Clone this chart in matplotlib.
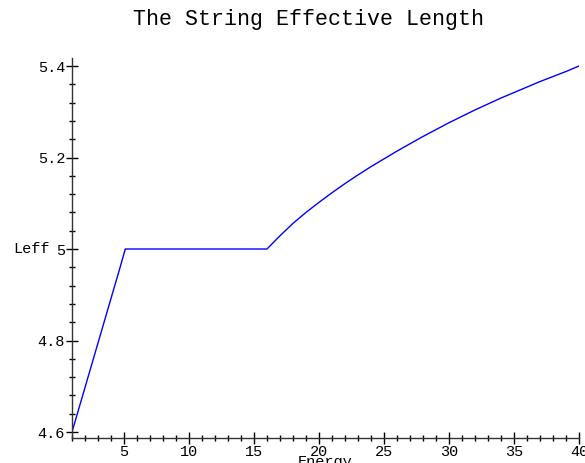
import numpy as np
import matplotlib
matplotlib.use("Agg")
import matplotlib.pyplot as plt
from matplotlib.ticker import MultipleLocator, FuncFormatter

# ================ dati ================
energy = [1, 4.7, 5.1, 16, 17, 18, 19, 20, 21, 22, 23, 24, 25, 26, 27, 28,
          29, 30, 31, 32, 33, 34, 35, 36, 37, 38, 39, 40]
leff = [4.6, 4.96, 5.0, 5.000, 5.029, 5.056, 5.080, 5.102, 5.123, 5.143,
        5.162, 5.180, 5.197, 5.214, 5.230, 5.246, 5.261, 5.276, 5.290,
        5.304, 5.317, 5.330, 5.342, 5.354, 5.366, 5.377, 5.388, 5.400]
titolo = "The String Effective Length"
# ========================================================

plt.rcParams['font.family'] = ['Liberation Mono', 'DejaVu Sans Mono']

fig = plt.figure(figsize=(5.85, 4.63), dpi=100)
ax = fig.add_axes([72/585, 25/463, 507/585, 380/463])

ax.plot(energy, leff, color=(0, 0, 1), lw=1.0)

ax.set_xlim(1, 40)
ax.set_ylim(4.5869, 5.4175)

for s in ["top", "right"]:
    ax.spines[s].set_visible(False)
for s in ["left", "bottom"]:
    ax.spines[s].set_color("#333333")
    ax.spines[s].set_linewidth(1.0)

ax.xaxis.set_major_locator(MultipleLocator(5))
ax.xaxis.set_minor_locator(MultipleLocator(1))
ax.yaxis.set_major_locator(MultipleLocator(0.2))
ax.yaxis.set_minor_locator(MultipleLocator(0.04))
ax.xaxis.set_major_formatter(FuncFormatter(lambda v, p: "" if v < 5 else "%g" % v))
ax.yaxis.set_major_formatter(FuncFormatter(lambda v, p: "%g" % round(v, 2)))

ax.tick_params(which="major", direction="inout", length=8, width=1, labelsize=11, pad=1)
ax.tick_params(which="minor", direction="inout", length=5, width=1)

ax.set_xlabel("Energy", fontsize=11)
ax.xaxis.set_label_coords(0.5, -0.045)
ax.set_ylabel("Leff", fontsize=11, rotation=0, ha="right", va="center")
ax.yaxis.set_label_coords(-22/507, 0.497)

fig.text(308.5/585, 1 - 20/463, titolo, ha="center", va="center", fontsize=15.6)

fig.savefig("out.png", dpi=100)
